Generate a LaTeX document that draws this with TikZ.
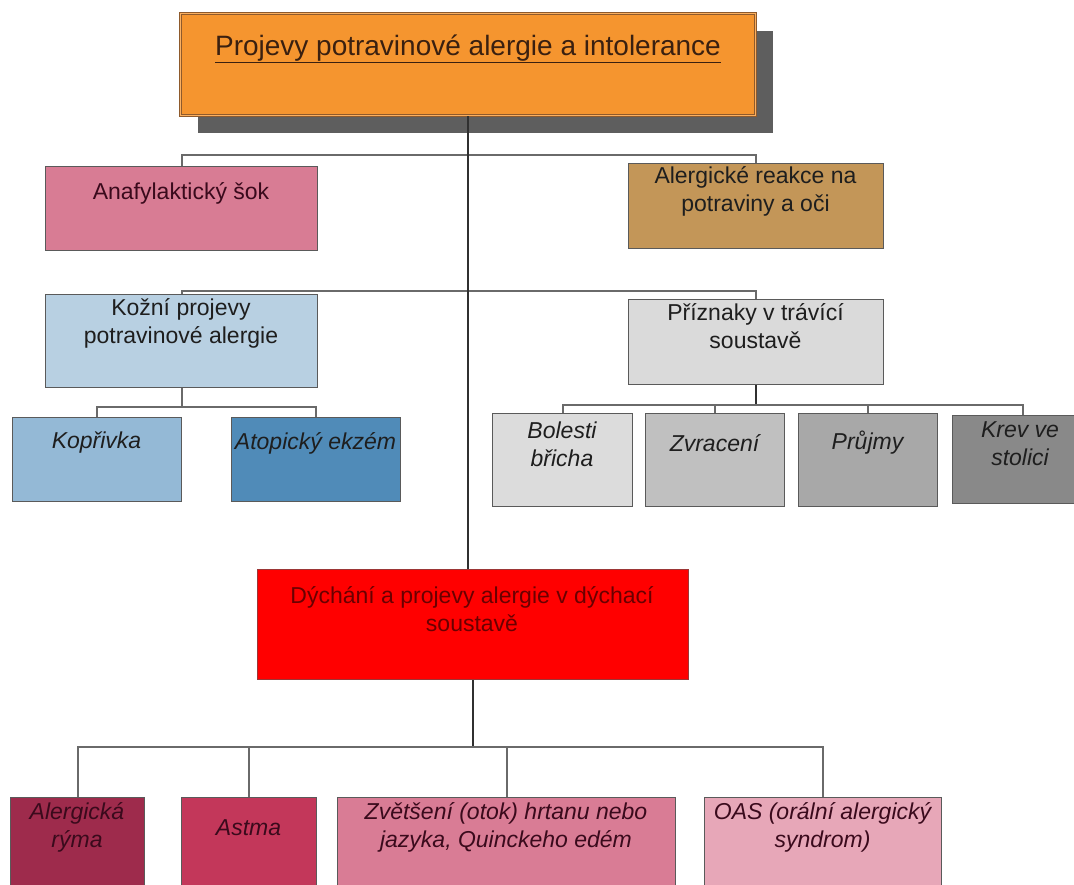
\documentclass[tikz,border=0pt]{standalone}
\usepackage{fontspec}
\setmainfont{Liberation Sans}
\usetikzlibrary{shadows}
\definecolor{orangeA}{HTML}{F5952F}
\definecolor{orangeB}{HTML}{FBB060}
\definecolor{brownc}{HTML}{8E5A2C}
\definecolor{shadowc}{HTML}{5E5E5E}
\definecolor{anac}{HTML}{D87C94}
\definecolor{alec}{HTML}{C39658}
\definecolor{kozc}{HTML}{B8D0E2}
\definecolor{pric}{HTML}{DADADA}
\definecolor{kopc}{HTML}{94B9D6}
\definecolor{atoc}{HTML}{508BB8}
\definecolor{bolc}{HTML}{DCDCDC}
\definecolor{zvrc}{HTML}{C0C0C0}
\definecolor{pruc}{HTML}{A8A8A8}
\definecolor{krevc}{HTML}{898989}
\definecolor{redc}{HTML}{FF0000}
\definecolor{ryc}{HTML}{9E2B4C}
\definecolor{astc}{HTML}{C3375A}
\definecolor{zvec}{HTML}{D97C95}
\definecolor{oasc}{HTML}{E7A7B8}
\definecolor{boxline}{HTML}{5A5A5A}
\definecolor{connc}{HTML}{6A6A6A}
\definecolor{mainline}{HTML}{303030}
\definecolor{textc}{HTML}{1E1E1E}
\definecolor{pinktext}{HTML}{3A0A1C}
\definecolor{redtext}{HTML}{6A0000}
\definecolor{titletext}{HTML}{3A2010}
\begin{document}
\begin{tikzpicture}[x=1pt,y=-1pt,
  box/.style={draw=boxline, line width=1.3pt, rectangle, anchor=north west, inner sep=0pt},
  txt/.style={align=center, inner sep=0pt, font=\fontsize{23}{28}\selectfont, text=textc},
  itxt/.style={align=center, inner sep=0pt, font=\fontsize{23}{28}\selectfont\itshape, text=textc},
  conn/.style={draw=connc, line width=2pt},
  mainc/.style={draw=mainline, line width=2pt}]
\useasboundingbox (0,0) rectangle (1074,884);
\clip (0,0) rectangle (1074,884);
\fill[white] (0,0) rectangle (1074,884);

% top box
\node[box, fill=orangeA, draw=brownc, line width=1pt, double=orangeB, double distance=1.6pt,
  minimum width=575pt, minimum height=102pt,
  drop shadow={shadow xshift=17pt, shadow yshift=-17pt, fill=shadowc, opacity=1}] (top) at (180,13) {};
\node[txt, font=\fontsize{28}{32}\selectfont, text=titletext] (topt) at (468,49) {\underline{Projevy potravinové alergie a intolerance}};

% level 1
\node[box, fill=anac, minimum width=272pt, minimum height=84pt] (ana) at (45,166) {};
\node[txt, text=pinktext] (anat) at (181,193) {Anafylaktický šok};
\node[box, fill=alec, minimum width=255pt, minimum height=85pt] (ale) at (628,163) {};
\node[txt] (alet) at (755.5,191) {Alergické reakce na\\potraviny a oči};

% level 2
\node[box, fill=kozc, minimum width=272pt, minimum height=93pt] (koz) at (45,294) {};
\node[txt] (kozt) at (181,323) {Kožní projevy\\potravinové alergie};
\node[box, fill=pric, minimum width=255pt, minimum height=85pt] (pri) at (628,299) {};
\node[txt] (prit) at (755.5,326) {Příznaky v trávící\\soustavě};

% skin children
\node[box, fill=kopc, minimum width=169pt, minimum height=84pt] (kop) at (12,417) {};
\node[itxt] (kopt) at (96.5,443) {Kopřivka};
\node[box, fill=atoc, minimum width=169pt, minimum height=84pt] (ato) at (231,417) {};
\node[itxt] (atot) at (315.5,443) {Atopický ekzém};

% digestive children
\node[box, fill=bolc, minimum width=140pt, minimum height=93pt] (bol) at (492,413) {};
\node[itxt] (bolt) at (562,444) {Bolesti\\břicha};
\node[box, fill=zvrc, minimum width=139pt, minimum height=93pt] (zvr) at (645,413) {};
\node[itxt] (zvrt) at (714.5,443) {Zvracení};
\node[box, fill=pruc, minimum width=139pt, minimum height=93pt] (pru) at (798,413) {};
\node[itxt] (prut) at (867.5,443) {Průjmy};
\node[box, fill=krevc, minimum width=140pt, minimum height=88pt] (krev) at (952,415) {};
\node[itxt] (krevt) at (1020,444) {Krev ve\\stolici};

% respiratory
\node[box, fill=redc, draw=boxline!60!red, minimum width=431pt, minimum height=110pt] (red) at (257,569) {};
\node[txt, text=redtext] (redt) at (472,609) {Dýchání a projevy alergie v dýchací\\soustavě};

\node[box, fill=ryc, minimum width=134pt, minimum height=120pt] (ry) at (10,797) {};
\node[itxt, text=pinktext] (ryt) at (77,827) {Alergická\\rýma};
\node[box, fill=astc, minimum width=135pt, minimum height=120pt] (ast) at (181,797) {};
\node[itxt, text=pinktext] (astt) at (248.5,828) {Astma};
\node[box, fill=zvec, minimum width=338pt, minimum height=120pt] (zve) at (337,797) {};
\node[itxt, text=pinktext] (zvet) at (506,827) {Zvětšení (otok) hrtanu nebo\\jazyka, Quinckeho edém};
\node[box, fill=oasc, minimum width=237pt, minimum height=120pt] (oas) at (704,797) {};
\node[itxt, text=pinktext] (oast) at (822.5,827) {OAS (orální alergický\\syndrom)};

% connectors
\coordinate (bus1) at (468,155);
\coordinate (bus2) at (468,291);
\coordinate (bus3) at (181,407);
\coordinate (bus4) at (755.5,405);
\coordinate (bus5) at (472.5,747);
\draw[conn] (ana.north) |- (bus1) -| (ale.north);
\draw[conn] (koz.north) |- (bus2) -| (pri.north);
\draw[mainc] (top.south) -- (top.south |- red.north);
\draw[conn] (koz.south) -- (koz.south |- bus3);
\draw[conn] (kop.north) |- (bus3) -| (ato.north);
\draw[mainc] (pri.south) -- (pri.south |- bus4);
\draw[conn] (bol.north) |- (bus4) -| (krev.north);
\draw[conn] (zvr.north) -- (zvr.north |- bus4);
\draw[conn] (pru.north) -- (pru.north |- bus4);
\draw[mainc] (red.south) -- (red.south |- bus5);
\draw[conn] (ry.north) |- (bus5) -| (oas.north);
\draw[conn] (ast.north) -- (ast.north |- bus5);
\draw[conn] (zve.north) -- (zve.north |- bus5);
\end{tikzpicture}
\end{document}
